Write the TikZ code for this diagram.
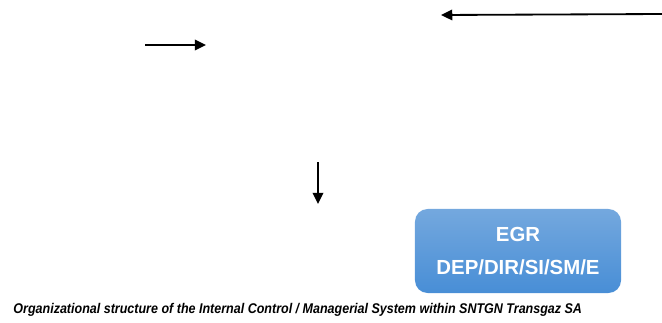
\documentclass[tikz,border=0pt]{standalone}
\usepackage{fontspec}
\setmainfont{Liberation Sans}
\usetikzlibrary{arrows.meta}
\definecolor{boxtop}{RGB}{116,168,222}
\definecolor{boxbot}{RGB}{72,142,214}
\begin{document}
\begin{tikzpicture}[x=0.025cm,y=-0.025cm,
    arr/.style={line width=1.3pt,-{Triangle[length=8pt,width=7.5pt]}},
    unitbox/.style={rounded corners=9pt,top color=boxtop,bottom color=boxbot,draw=none,
        minimum width=5.15cm,minimum height=2.1cm,text=white,align=center,
        font=\fontsize{14.5}{24}\selectfont\bfseries}]
    \useasboundingbox (0,0) rectangle (662,322);
    %% arrows
    \coordinate (a1s) at (145,45);
    \coordinate (a1e) at (206,45);
    \draw[arr] (a1s) -- (a1e);
    \coordinate (a2s) at (662,14);
    \coordinate (a2e) at (441,15);
    \draw[arr] (a2s) -- (a2e);
    \coordinate (a3s) at (318,162);
    \coordinate (a3e) at (318,204);
    \draw[arr] (a3s) -- (a3e);
    %% EGR box
    \node[unitbox] (egr) at (518,251) {EGR\\DEP/DIR/SI/SM/E};
    %% caption
    \node[anchor=west,xscale=0.89,font=\fontsize{10}{12}\selectfont\bfseries\itshape] (cap) at (9,310)
        {Organizational structure of the Internal Control / Managerial System within SNTGN Transgaz SA};
\end{tikzpicture}
\end{document}
